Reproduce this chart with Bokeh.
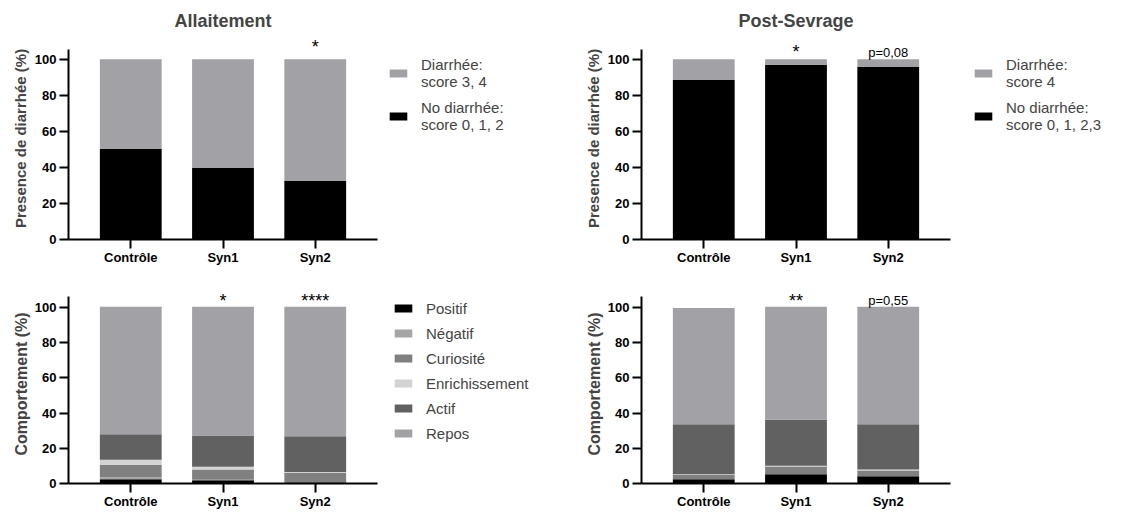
from bokeh.plotting import figure
from bokeh.models import (ColumnDataSource, Range1d, FixedTicker, Legend, LegendItem, Label)
from bokeh.layouts import column, row
from bokeh.embed import file_html
from bokeh.resources import INLINE

# ---------------- data ----------------
categories = ["Contrôle", "Syn1", "Syn2"]

allait_no_diarrhee = [50.2, 39.6, 32.4]
allait_diarrhee = [49.8, 60.4, 67.6]
sevrage_no_diarrhee = [88.5, 96.9, 95.7]
sevrage_diarrhee = [11.5, 3.1, 4.3]

behaviours = ["Positif", "Négatif", "Curiosité", "Enrichissement", "Actif", "Repos"]
allait_positif = [2.4, 1.8, 0.5]
allait_negatif = [1.1, 0.3, 0.1]
allait_curiosite = [7.2, 5.9, 5.3]
allait_enrichissement = [2.8, 1.5, 0.6]
allait_actif = [14.5, 17.7, 20.3]
allait_repos = [72.4, 73.1, 73.6]

sevrage_positif = [2.4, 5.2, 4.1]
sevrage_negatif = [0.0, 0.0, 0.0]
sevrage_curiosite = [2.4, 4.4, 3.3]
sevrage_enrichissement = [0.4, 0.5, 0.5]
sevrage_actif = [28.4, 26.1, 25.7]
sevrage_repos = [66.0, 64.1, 66.8]

diar_labels_allait = ["Diarrhée:\nscore 3, 4", "No diarrhée:\nscore 0, 1, 2"]
diar_labels_sevrage = ["Diarrhée:\nscore 4", "No diarrhée:\nscore 0, 1, 2,3"]

allait_diar_marks = ["", "", "*"]
sevrage_diar_marks = ["", "*", "p=0,08"]
allait_comp_marks = ["", "*", "****"]
sevrage_comp_marks = ["", "**", "p=0,55"]

y_ticks = [0, 20, 40, 60, 80, 100]

# ---------------- styles ----------------
FONT = "Liberation Sans"
GRAY = "#a2a1a6"
BLACK = "#000000"
beh_colors = ["#000000", "#a5a5a5", "#808080", "#d3d3d3", "#616161", "#a2a1a6"]
FRAME_W = 309
LEFT_B = 68
RIGHT_B = 4
PLOT_W = LEFT_B + FRAME_W + RIGHT_B


def make_fig(title, ylabel, height, top, bottom, yend, bound_top, lab_size, lab_standoff):
    kw = dict(title=title) if title else {}
    p = figure(x_range=categories, y_range=Range1d(0, yend), width=PLOT_W, height=height,
               output_backend="svg", toolbar_location=None,
               min_border_left=LEFT_B, min_border_right=RIGHT_B,
               min_border_top=top, min_border_bottom=bottom, **kw)
    p.outline_line_color = None
    p.xgrid.grid_line_color = None
    p.ygrid.grid_line_color = None
    p.x_range.range_padding = 0.175
    p.x_range.range_padding_units = "absolute"
    if title:
        p.title.text_font = FONT
        p.title.text_font_size = "18px"
        p.title.text_font_style = "bold"
        p.title.align = "center"
        p.title.standoff = 14
    for ax in (p.xaxis[0], p.yaxis[0]):
        ax.axis_line_width = 2
        ax.axis_line_color = "black"
        ax.major_tick_line_width = 2
        ax.major_tick_line_color = "black"
        ax.major_tick_in = 0
        ax.major_tick_out = 9
        ax.minor_tick_line_color = None
        ax.major_label_text_font = FONT
        ax.major_label_text_font_size = "13px"
        ax.major_label_text_font_style = "bold"
        ax.major_label_text_color = "black"
    p.xaxis.major_label_standoff = 1
    p.yaxis.major_label_standoff = 3
    p.yaxis.ticker = FixedTicker(ticks=y_ticks)
    p.yaxis.bounds = (0, bound_top)
    p.yaxis.axis_label = ylabel
    p.yaxis.axis_label_text_font = FONT
    p.yaxis.axis_label_text_font_size = lab_size
    p.yaxis.axis_label_text_font_style = "bold"
    p.yaxis.axis_label_standoff = lab_standoff
    return p


def legend_fig(width, height, labels, colors, loc, spacing, label_height):
    lf = figure(width=width, height=height, x_range=Range1d(0, 1), y_range=Range1d(0, 1),
                x_axis_location=None, y_axis_location=None, toolbar_location=None,
                output_backend="svg", min_border=0)
    lf.outline_line_color = None
    lf.grid.visible = False
    items = []
    for lab, col in zip(labels, colors):
        # zero-height proxy outside the visible range: only its legend swatch shows
        r = lf.vbar(x=[-1], top=[0], width=0.5, fill_color=col, line_color=None)
        items.append(LegendItem(label=lab, renderers=[r]))
    lg = Legend(items=items, location=loc)
    lg.border_line_color = None
    lg.background_fill_alpha = 0
    lg.label_text_font = FONT
    lg.label_text_font_size = "15px"
    lg.glyph_width = 22
    lg.glyph_height = 10
    lg.label_standoff = 12
    lg.padding = 0
    lg.margin = 0
    lg.spacing = spacing
    lg.label_height = label_height
    lf.add_layout(lg)
    return lf


def add_marks(p, marks, ys, sizes):
    # categorical synthetic coordinate of each factor's centre
    for i, (m, y, s) in enumerate(zip(marks, ys, sizes)):
        if m:
            p.add_layout(Label(x=i + 0.5, y=y, text=m,
                               text_align="center", text_baseline="alphabetic",
                               text_font=FONT, text_font_size=s, text_color="black"))


TOP_H, BOT_H = 267, 244
LEG1_W = 573 - PLOT_W
LEG2_W = 1121 - 573 - PLOT_W

# ---------- top-left ----------
src1 = ColumnDataSource(dict(cat=categories, no=allait_no_diarrhee, di=allait_diarrhee))
p1 = make_fig("Allaitement", "Presence de diarrhée (%)", TOP_H, 37, 28, 112, 105.5, "15px", 3)
p1.vbar_stack(["no", "di"], x="cat", width=0.67, color=[BLACK, GRAY], line_color=None, source=src1)
add_marks(p1, allait_diar_marks, [0, 0, 106.7], ["18px", "18px", "18px"])
l1 = legend_fig(LEG1_W, TOP_H, diar_labels_allait, [GRAY, BLACK], (6, 106), 9, 34)

# ---------- top-right ----------
src2 = ColumnDataSource(dict(cat=categories, no=sevrage_no_diarrhee, di=sevrage_diarrhee))
p2 = make_fig("Post-Sevrage", "Presence de diarrhée (%)", TOP_H, 37, 28, 112, 105.5, "15px", 3)
p2.vbar_stack(["no", "di"], x="cat", width=0.67, color=[BLACK, GRAY], line_color=None, source=src2)
add_marks(p2, sevrage_diar_marks, [0, 104.0, 103.6], ["18px", "18px", "13px"])
l2 = legend_fig(LEG2_W, TOP_H, diar_labels_sevrage, [GRAY, BLACK], (18, 106), 9, 34)

# ---------- bottom-left ----------
src3 = ColumnDataSource(dict(cat=categories, b0=allait_positif, b1=allait_negatif, b2=allait_curiosite,
                             b3=allait_enrichissement, b4=allait_actif, b5=allait_repos))
p3 = make_fig(None, "Comportement (%)", BOT_H, 17, 28, 113, 106, "16px", 2)
p3.vbar_stack(["b0", "b1", "b2", "b3", "b4", "b5"], x="cat", width=0.67, color=beh_colors,
              line_color=None, source=src3)
add_marks(p3, allait_comp_marks, [0, 103.8, 103.8], ["18px", "18px", "18px"])
l3 = legend_fig(LEG1_W, BOT_H, behaviours, beh_colors, (11, 41), 7, 18)

# ---------- bottom-right ----------
src4 = ColumnDataSource(dict(cat=categories, b0=sevrage_positif, b1=sevrage_negatif, b2=sevrage_curiosite,
                             b3=sevrage_enrichissement, b4=sevrage_actif, b5=sevrage_repos))
p4 = make_fig(None, "Comportement (%)", BOT_H, 17, 28, 113, 106, "16px", 2)
p4.vbar_stack(["b0", "b1", "b2", "b3", "b4", "b5"], x="cat", width=0.67, color=beh_colors,
              line_color=None, source=src4)
add_marks(p4, sevrage_comp_marks, [0, 103.8, 104.0], ["18px", "18px", "13px"])

layout = column(row(p1, l1, p2, l2), row(p3, l3, p4))
open("out.html", "w").write(file_html(layout, INLINE))
